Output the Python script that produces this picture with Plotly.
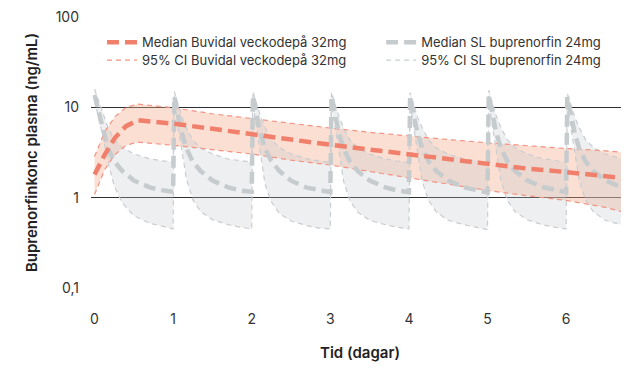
import plotly.graph_objects as go

# ---------------- data ----------------
# Buvidal weekly depot 32 mg
buv_t = [0, 0.13, 0.26, 0.4, 0.55, 0.75, 1.0, 1.5, 2.0, 2.5, 3.0, 3.5, 4.0, 4.5, 5.0, 5.5, 6.0, 6.5, 6.85]
buv_median = [1.8, 3.0, 4.6, 6.2, 7.2, 7.0, 6.6, 5.8, 5.0, 4.4, 3.85, 3.4, 3.0, 2.65, 2.35, 2.1, 1.92, 1.75, 1.6]
buv_upper = [2.85, 5.4, 7.9, 10.0, 10.9, 10.5, 9.9, 8.5, 7.5, 6.7, 5.9, 5.3, 4.8, 4.4, 4.05, 3.75, 3.5, 3.3, 3.1]
buv_lower = [1.08, 2.05, 3.0, 3.8, 4.12, 4.0, 3.8, 3.4, 3.05, 2.6, 2.3, 1.95, 1.65, 1.4, 1.2, 1.05, 0.93, 0.78, 0.65]

# SL buprenorphine 24 mg daily
sl_t = [
    0, 0.06, 0.11, 0.17, 0.25, 0.35, 0.5, 0.7, 0.85,
    1, 1.015, 1.06, 1.11, 1.17, 1.25, 1.35, 1.5, 1.7, 1.85,
    2, 2.015, 2.06, 2.11, 2.17, 2.25, 2.35, 2.5, 2.7, 2.85,
    3, 3.015, 3.06, 3.11, 3.17, 3.25, 3.35, 3.5, 3.7, 3.85,
    4, 4.015, 4.06, 4.11, 4.17, 4.25, 4.35, 4.5, 4.7, 4.85,
    5, 5.015, 5.06, 5.11, 5.17, 5.25, 5.35, 5.5, 5.7, 5.85,
    6, 6.015, 6.06, 6.11, 6.17, 6.25, 6.35, 6.5, 6.7, 6.85,
]
sl_median = [
    13.7, 8.4, 5.3, 3.5, 2.55, 1.98, 1.55, 1.3, 1.21,
    1.16, 13.2, 8.2, 5.2, 3.5, 2.5, 1.97, 1.55, 1.3, 1.2,
    1.16, 13.4, 8.3, 5.2, 3.45, 2.55, 1.98, 1.54, 1.29, 1.21,
    1.15, 13.3, 8.2, 5.1, 3.5, 2.5, 1.96, 1.55, 1.3, 1.2,
    1.15, 13.2, 8.2, 5.2, 3.5, 2.52, 1.97, 1.55, 1.3, 1.2,
    1.14, 13.6, 8.4, 5.3, 3.55, 2.55, 1.98, 1.56, 1.31, 1.21,
    1.15, 13.0, 8.1, 5.1, 3.45, 2.5, 1.96, 1.55, 1.3, 1.22,
]
sl_upper = [
    16.0, 11.2, 8.1, 6.0, 4.4, 3.6, 3.05, 2.7, 2.56,
    2.5, 15.0, 10.8, 7.9, 5.9, 4.35, 3.55, 3.05, 2.68, 2.55,
    2.47, 15.0, 10.9, 8.0, 6.0, 4.4, 3.6, 3.05, 2.7, 2.55,
    2.46, 14.8, 10.8, 7.9, 5.9, 4.35, 3.6, 3.03, 2.68, 2.54,
    2.46, 14.6, 10.7, 7.8, 5.9, 4.35, 3.55, 3.03, 2.68, 2.54,
    2.45, 15.5, 11.1, 8.1, 6.0, 4.4, 3.6, 3.05, 2.7, 2.56,
    2.47, 14.3, 10.6, 7.8, 5.9, 4.35, 3.58, 3.04, 2.7, 2.57,
]
sl_lower = [
    12.0, 7.3, 4.6, 2.5, 1.35, 0.88, 0.63, 0.52, 0.48,
    0.45, 11.0, 6.2, 3.3, 1.6, 0.95, 0.7, 0.57, 0.5, 0.47,
    0.45, 11.2, 6.0, 3.1, 1.4, 0.9, 0.67, 0.55, 0.49, 0.46,
    0.45, 11.0, 6.1, 3.2, 1.5, 0.92, 0.69, 0.56, 0.5, 0.47,
    0.45, 10.8, 6.1, 3.2, 1.5, 0.93, 0.69, 0.56, 0.5, 0.47,
    0.44, 11.4, 6.2, 3.3, 1.55, 0.94, 0.7, 0.57, 0.5, 0.47,
    0.45, 10.6, 6.0, 3.2, 1.5, 0.93, 0.69, 0.56, 0.5, 0.47,
]

x_ticks = [0, 1, 2, 3, 4, 5, 6]
x_ticktext = ["0", "1", "2", "3", "4", "5", "6"]
y_ticks = [0.1, 1, 10, 100]
y_ticktext = ["0,1", "1", "10", "100"]

names = {
    "buv_med": "Median Buvidal veckodepå 32mg",
    "sl_med": "Median SL buprenorfin 24mg",
    "buv_ci": "95% CI Buvidal veckodepå 32mg",
    "sl_ci": "95% CI SL buprenorfin 24mg",
}

# ---------------- styles ----------------
RED = "#F0806C"
RED_CI = "#F29383"
RED_FILL = "rgba(248,170,140,0.38)"
GREY = "#C6CBCE"
GREY_CI = "#C9CDD1"
GREY_FILL = "rgba(190,196,202,0.28)"
TXT = "#333333"
FONT = "Inter"

fig = go.Figure()

# fills
fig.add_trace(go.Scatter(x=buv_t, y=buv_upper, mode="lines", line=dict(width=0),
                         showlegend=False, hoverinfo="skip"))
fig.add_trace(go.Scatter(x=buv_t, y=buv_lower, mode="lines", line=dict(width=0),
                         fill="tonexty", fillcolor=RED_FILL, showlegend=False, hoverinfo="skip"))
fig.add_trace(go.Scatter(x=sl_t, y=sl_upper, mode="lines", line=dict(width=0),
                         showlegend=False, hoverinfo="skip"))
fig.add_trace(go.Scatter(x=sl_t, y=sl_lower, mode="lines", line=dict(width=0),
                         fill="tonexty", fillcolor=GREY_FILL, showlegend=False, hoverinfo="skip"))

ci_dash = "5px,4px"
# CI lines
fig.add_trace(go.Scatter(x=sl_t, y=sl_upper, mode="lines", name=names["sl_ci"],
                         line=dict(color=GREY_CI, width=1.2, dash=ci_dash),
                         legendgroup="slci", legend="legend4"))
fig.add_trace(go.Scatter(x=sl_t, y=sl_lower, mode="lines", name=names["sl_ci"],
                         line=dict(color=GREY_CI, width=1.2, dash=ci_dash),
                         legendgroup="slci", legend="legend4", showlegend=False))
fig.add_trace(go.Scatter(x=buv_t, y=buv_upper, mode="lines", name=names["buv_ci"],
                         line=dict(color=RED_CI, width=1.2, dash=ci_dash),
                         legendgroup="buvci", legend="legend3"))
fig.add_trace(go.Scatter(x=buv_t, y=buv_lower, mode="lines", name=names["buv_ci"],
                         line=dict(color=RED_CI, width=1.2, dash=ci_dash),
                         legendgroup="buvci", legend="legend3", showlegend=False))
# medians
fig.add_trace(go.Scatter(x=sl_t, y=sl_median, mode="lines", name=names["sl_med"],
                         line=dict(color=GREY, width=4.5, dash="12px,6px"),
                         legend="legend2"))
fig.add_trace(go.Scatter(x=buv_t, y=buv_median, mode="lines", name=names["buv_med"],
                         line=dict(color=RED, width=4.5, dash="12px,6px"),
                         legend="legend"))

legend_common = dict(orientation="v", xanchor="left", yanchor="top",
                     font=dict(family=FONT, size=13, color=TXT),
                     bgcolor="rgba(0,0,0,0)", tracegroupgap=0)

X1, X2 = 0.0204, 0.5393
Y1, Y2 = 0.962, 0.896

fig.update_layout(
    template="none",
    width=621, height=358,
    margin=dict(l=83, r=0, t=9, b=78),
    paper_bgcolor="white", plot_bgcolor="white",
    font=dict(family=FONT, color=TXT, size=14),
    legend=dict(x=X1, y=Y1, **legend_common),
    legend2=dict(x=X2, y=Y1, **legend_common),
    legend3=dict(x=X1, y=Y2, **legend_common),
    legend4=dict(x=X2, y=Y2, **legend_common),
    xaxis=dict(range=[-0.045, 6.8], tickvals=x_ticks, ticktext=x_ticktext, automargin=False,
               showgrid=False, zeroline=False, showline=False, ticks="",
               tickfont=dict(size=14, color=TXT), ticklabelstandoff=21,
               title=dict(text="Tid (dagar)", font=dict(size=15, color="#222", weight=600),
                          standoff=21)),
    yaxis=dict(type="log", range=[-1.002, 2.002], tickvals=y_ticks, ticktext=y_ticktext,
               automargin=False,
               showgrid=True, gridcolor="#2e2e2e", gridwidth=1,
               zeroline=False, showline=False, ticks="",
               tickfont=dict(size=14, color=TXT), ticklabelstandoff=11,
               title=dict(text="Buprenorfinkonc plasma (ng/mL)",
                          font=dict(size=15, color="#222", weight=600), standoff=14)),
)

fig.write_html("out.html")
